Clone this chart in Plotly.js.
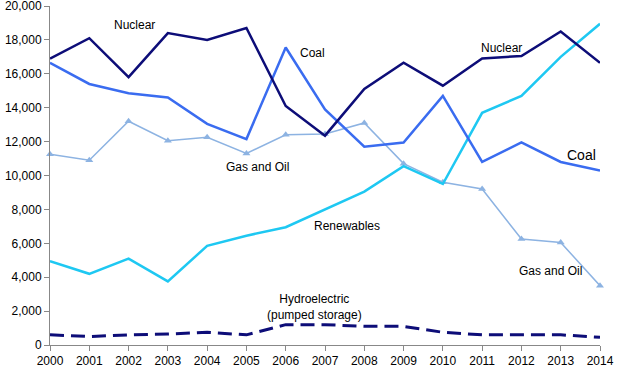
<!DOCTYPE html>
<html><head><meta charset="utf-8">
<script src="https://cdn.plot.ly/plotly-3.0.1.min.js"></script>
<style>body{margin:0;background:#fff}#c{width:621px;height:371px}</style>
</head><body><div id="c"></div>
<script>
const years = [2000,2001,2002,2003,2004,2005,2006,2007,2008,2009,2010,2011,2012,2013,2014];
const nuclear = [16900,18100,15800,18400,18000,18700,14100,12350,15100,16650,15300,16900,17050,18500,16650];
const coal = [16650,15400,14850,14600,13050,12150,17550,13900,11700,11950,14700,10800,11950,10800,10300];
const gasOil = [11250,10900,13200,12050,12250,11300,12400,12450,13100,10700,9600,9200,6250,6050,3500];
const renewables = [4950,4200,5100,3750,5850,6450,6950,8000,9050,10550,9500,13700,14700,17000,18950];
const hydro = [600,500,600,650,750,600,1200,1200,1100,1100,750,600,600,600,450];
const yTicks = [0,2000,4000,6000,8000,10000,12000,14000,16000,18000,20000];

const traces = [
  {x:years,y:hydro,name:'Hydroelectric (pumped storage)',mode:'lines',line:{color:'#0d0d78',width:3,dash:'14px,7px'}},
  {x:years,y:gasOil,name:'Gas and Oil',mode:'lines+markers',line:{color:'#8db3e2',width:1.5},marker:{symbol:'triangle-up',size:7,color:'#8db3e2'},cliponaxis:false},
  {x:years,y:renewables,name:'Renewables',mode:'lines',line:{color:'#1ec8f2',width:2.5}},
  {x:years,y:coal,name:'Coal',mode:'lines',line:{color:'#3a6cf0',width:2.5}},
  {x:years,y:nuclear,name:'Nuclear',mode:'lines',line:{color:'#0d0d78',width:2.5}}
];
const af = {family:'Liberation Sans, Arial, sans-serif',size:12,color:'#000'};
const ann = (t,x,y,s)=>({text:t,x:x,y:y,xref:'x',yref:'y',showarrow:false,font:Object.assign({},af,s?{size:s}:{})});
const layout = {
  width:621,height:371,
  margin:{l:50,r:21,t:6,b:26},
  paper_bgcolor:'#fff',plot_bgcolor:'#fff',
  showlegend:false,
  font:af,
  xaxis:{range:[2000,2014],tickvals:years,ticktext:years.map(String),showgrid:false,zeroline:false,ticklabeloverflow:'allow',
    showline:true,linecolor:'#888',linewidth:1,ticks:'outside',ticklen:5,tickcolor:'#888',tickfont:af},
  yaxis:{range:[0,20000],tickvals:yTicks,ticktext:yTicks.map(v=>v.toLocaleString('en-US')),showgrid:false,zeroline:false,ticklabeloverflow:'allow',
    showline:true,linecolor:'#888',linewidth:1,ticks:'outside',ticklen:5,tickcolor:'#888',tickfont:af},
  annotations:[
    ann('Nuclear',2002.14,18880),
    ann('Coal',2006.69,17230),
    ann('Nuclear',2011.5,17520),
    ann('Coal',2013.54,11210,14),
    ann('Gas and Oil',2005.29,10500),
    ann('Renewables',2007.56,7020),
    ann('Gas and Oil',2012.73,4370),
    ann('Hydroelectric<br>(pumped storage)',2006.74,2240)
  ]
};
Plotly.newPlot('c',traces,layout,{displayModeBar:false,staticPlot:true});
</script></body></html>
